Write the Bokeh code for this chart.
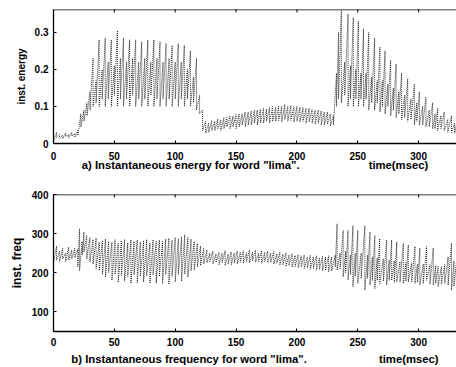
import math
from bokeh.plotting import figure
from bokeh.layouts import column
from bokeh.models import FixedTicker, Range1d, Span
from bokeh.embed import file_html
from bokeh.resources import INLINE

# ---------------- data ----------------
x_ticks = [0, 50, 100, 150, 200, 250, 300]
energy_ticks = [0, 0.1, 0.2, 0.3]
freq_ticks = [100, 200, 300, 400]

# instantaneous energy: stripe time (msec), stripe top, stripe bottom
energy_t = [
    0, 2.5, 5, 7.5, 10, 12.5, 15, 17.5, 20, 22.5,
    25, 27.5, 30, 32.5, 35, 37.5, 40, 42.5, 45, 47.5,
    50, 52.5, 55, 57.5, 60, 62.5, 65, 67.5, 70, 72.5,
    75, 77.5, 80, 82.5, 85, 87.5, 90, 92.5, 95, 97.5,
    100, 102.5, 105, 107.5, 110, 112.5, 115, 117.5, 120, 122.5,
    125, 127.5, 130, 132.5, 135, 137.5, 140, 142.5, 145, 147.5,
    150, 152.5, 155, 157.5, 160, 162.5, 165, 167.5, 170, 172.5,
    175, 177.5, 180, 182.5, 185, 187.5, 190, 192.5, 195, 197.5,
    200, 202.5, 205, 207.5, 210, 212.5, 215, 217.5, 220, 222.5,
    225, 227.5, 230,
    232.5, 234.2, 236.5, 239.3, 242, 244, 246.3, 248.4, 250.5, 252.6,
    254.7, 256.8, 259, 261.4, 263.8, 266, 268.2, 270.2, 272.4, 274.7,
    277, 279.2, 281.5, 283.7, 286, 288.5, 291, 293.7, 296.5, 298.5,
    300.6, 303.3, 306, 308.7, 311.5, 313.5, 315.6, 318.3, 321, 324,
    327, 329.5, 331,
]
energy_hi = [
    .012, .03, .024, .022, .028, .025, .03, .027, .035, .08,
    .09, .11, .14, .23, .17, .28, .20, .285, .22, .28,
    .21, .305, .23, .285, .22, .28, .23, .28, .22, .275,
    .23, .28, .22, .28, .23, .275, .22, .27, .23, .265,
    .22, .27, .22, .265, .20, .25, .18, .23, .13, .09,
    .06, .055, .062, .06, .066, .064, .07, .07, .075, .074,
    .078, .08, .08, .085, .085, .088, .09, .09, .092, .095,
    .093, .097, .10, .098, .102, .10, .105, .10, .103, .10,
    .10, .098, .097, .095, .095, .092, .09, .09, .088, .085,
    .085, .08, .075,
    .19, .30, .36, .22, .35, .21, .34, .20, .33, .19,
    .31, .19, .30, .18, .285, .17, .26, .17, .25, .16,
    .225, .15, .215, .14, .19, .13, .175, .12, .16, .11,
    .14, .10, .125, .09, .11, .08, .095, .075, .085, .065,
    .075, .055, .05,
]
energy_lo = [
    .004, .016, .014, .013, .018, .015, .02, .017, .022, .045,
    .06, .075, .09, .10, .11, .10, .12, .10, .12, .10,
    .13, .10, .12, .10, .12, .10, .13, .10, .12, .10,
    .12, .10, .13, .10, .12, .10, .12, .10, .12, .10,
    .12, .10, .12, .10, .12, .10, .11, .09, .08, .035,
    .028, .03, .035, .035, .04, .035, .04, .045, .04, .045,
    .04, .045, .05, .045, .05, .05, .055, .05, .055, .055,
    .06, .055, .06, .06, .062, .058, .065, .06, .062, .058,
    .06, .058, .06, .055, .058, .055, .052, .055, .05, .05,
    .052, .048, .05,
    .10, .12, .11, .13, .10, .12, .10, .12, .10, .12,
    .10, .12, .09, .11, .09, .11, .085, .10, .08, .10,
    .075, .09, .07, .08, .065, .07, .06, .065, .05, .06,
    .05, .05, .045, .045, .04, .04, .035, .04, .035, .03,
    .03, .028, .025,
]

# instantaneous frequency: stripe time (msec), stripe top, stripe bottom
freq_t = [
    0, 2.5, 5, 7.5, 10, 12.5, 15, 17.5,
    20, 21.4, 23.5, 25, 27.3, 29.9, 32.5, 35, 37.6, 40.2,
    42.7, 45.3, 48, 50.6, 53.2, 55.8, 58.4, 61, 63.6, 66.2,
    68.8, 71.4, 74, 76.6, 79.2, 81.8, 84.4, 87, 89.6, 92.2,
    94.8, 97.4, 100, 102.6, 105.2, 107.8, 110.4, 113, 115.6, 118.2,
    120.8, 123.4,
    126, 128.5, 131, 133.5, 136, 138.5, 141, 143.5, 146, 148.5,
    151, 153.5, 156, 158.5, 161, 163.5, 166, 168.5, 171, 173.5,
    176, 178.5, 181, 183.5, 186, 188.5, 191, 193.5, 196, 198.5,
    201, 203.5, 206, 208.5, 211, 213.5, 216, 218.5, 221, 223.5,
    226, 228.5,
    231.5, 233, 235.5, 238, 240, 242, 244, 246, 248, 250,
    252.8, 255.8, 258, 260, 262, 264, 266, 268, 271, 273.7,
    275.8, 277.8, 280, 282, 284.7, 287.4, 289.5, 291.5, 294.3, 297,
    299, 301, 303.8, 306.5, 309.3, 312, 314, 316, 318.7, 321.4,
    324.2, 327, 329, 331,
]
freq_hi = [
    250, 268, 255, 262, 250, 265, 258, 262,
    260, 312, 280, 304, 295, 290, 285, 288, 278, 282,
    286, 280, 278, 284, 275, 282, 285, 276, 284, 280,
    283, 278, 282, 285, 276, 284, 280, 283, 280, 286,
    288, 283, 290, 287, 292, 297, 290, 286, 280, 275,
    268, 262,
    258, 250, 255, 248, 252, 250, 256, 247, 253, 250,
    255, 252, 256, 250, 258, 252, 257, 250, 256, 252,
    255, 250, 254, 248, 252, 247, 250, 245, 248, 244,
    246, 243, 245, 240, 244, 240, 243, 238, 242, 240,
    243, 240,
    245, 325, 250, 308, 255, 308, 245, 320, 250, 308,
    250, 320, 245, 304, 240, 295, 238, 287, 235, 283,
    232, 283, 230, 278, 228, 275, 226, 271, 225, 267,
    222, 263, 222, 267, 220, 263, 218, 216, 215, 220,
    240, 275, 230, 224,
]
freq_lo = [
    225, 232, 228, 235, 228, 232, 235, 238,
    215, 205, 245, 253, 235, 227, 222, 210, 205, 195,
    188, 200, 180, 195, 175, 192, 178, 190, 172, 194,
    174, 190, 176, 192, 172, 194, 173, 190, 172, 195,
    170, 190, 176, 195, 178, 196, 188, 205, 206, 215,
    218, 222,
    225, 228, 222, 226, 220, 225, 218, 222, 220, 224,
    222, 226, 224, 228, 225, 230, 226, 228, 224, 228,
    225, 226, 222, 224, 220, 220, 216, 218, 214, 215,
    212, 214, 210, 212, 208, 210, 206, 208, 204, 205,
    202, 204,
    215, 206, 210, 189, 200, 181, 195, 164, 190, 172,
    185, 155, 185, 168, 180, 159, 180, 172, 178, 168,
    180, 180, 175, 176, 175, 172, 178, 176, 175, 172,
    175, 168, 172, 180, 170, 168, 172, 164, 170, 172,
    168, 155, 165, 161,
]

assert len(energy_t) == len(energy_hi) == len(energy_lo)
assert len(freq_t) == len(freq_hi) == len(freq_lo)

FONT = "Liberation Sans"
NB = "\u00a0"
caption_a = 'a) Instantaneous energy for word "lima".' + NB * 22 + "time(msec)"
caption_b = 'b) Instantaneous frequency for word "lima".' + NB * 23 + "time(msec)"


def zigzag(t, hi, lo):
    xs, ys = [], []
    for ti, h, l in zip(t, hi, lo):
        xs += [ti, ti]
        ys += [h, l]
    return xs, ys


def panel(t, hi, lo, yr, yticks, ylabel, ylabel_size, caption, height,
          top_border, bottom_border, xstandoff, cap_standoff, overrides=None):
    p = figure(width=456, height=height, x_range=Range1d(0, 331.1), y_range=Range1d(*yr),
               output_backend="svg", toolbar_location=None,
               min_border_left=53, min_border_right=0,
               min_border_top=top_border, min_border_bottom=bottom_border)
    p.grid.visible = False
    p.background_fill_color = "white"
    p.border_fill_color = "white"
    p.outline_line_color = None

    xs, ys = zigzag(t, hi, lo)
    p.line(xs, ys, line_color="black", line_width=0.8, line_dash="1 1")

    # top border with inward ticks
    p.add_layout(Span(location=yr[1], dimension="width", line_color="black", line_width=1.3))
    p.scatter(x=x_ticks, y=[yr[1]] * len(x_ticks), marker="dash", angle=math.pi / 2,
              size=6, line_color="black", line_width=1)

    for ax in (p.xaxis[0], p.yaxis[0]):
        ax.axis_line_color = "black"
        ax.axis_line_width = 1.3
        ax.major_tick_in = 3
        ax.major_tick_out = 0
        ax.minor_tick_line_color = None
        ax.major_label_text_font = FONT
        ax.major_label_text_font_style = "bold"
        ax.major_label_text_font_size = "10px"
        ax.major_label_text_color = "black"
    p.xaxis.ticker = FixedTicker(ticks=x_ticks)
    p.xaxis.major_label_standoff = xstandoff
    p.xaxis.axis_label = caption
    p.xaxis.axis_label_text_font = FONT
    p.xaxis.axis_label_text_font_style = "bold"
    p.xaxis.axis_label_text_font_size = "11.3px"
    p.xaxis.axis_label_text_color = "black"
    p.xaxis.axis_label_standoff = cap_standoff

    p.yaxis.ticker = FixedTicker(ticks=yticks)
    p.yaxis.major_label_standoff = 5
    if overrides:
        p.yaxis.major_label_overrides = overrides
    p.yaxis.axis_label = ylabel
    p.yaxis.axis_label_text_font = FONT
    p.yaxis.axis_label_text_font_style = "bold"
    p.yaxis.axis_label_text_font_size = ylabel_size
    p.yaxis.axis_label_text_color = "black"
    p.yaxis.axis_label_standoff = 5
    return p


p1 = panel(energy_t, energy_hi, energy_lo, (0, 0.362), energy_ticks, "inst. energy", "10px",
           caption_a, 182, 9, 39, 8, -4,
           overrides={0: "0", 0.1: "0.1", 0.2: "0.2", 0.3: "0.3"})
p2 = panel(freq_t, freq_hi, freq_lo, (49, 400), freq_ticks, "inst. freq", "12px",
           caption_b, 185, 12, 36, 6, 4)

layout = column(p1, p2, spacing=0)
open("out.html", "w").write(file_html(layout, INLINE))
